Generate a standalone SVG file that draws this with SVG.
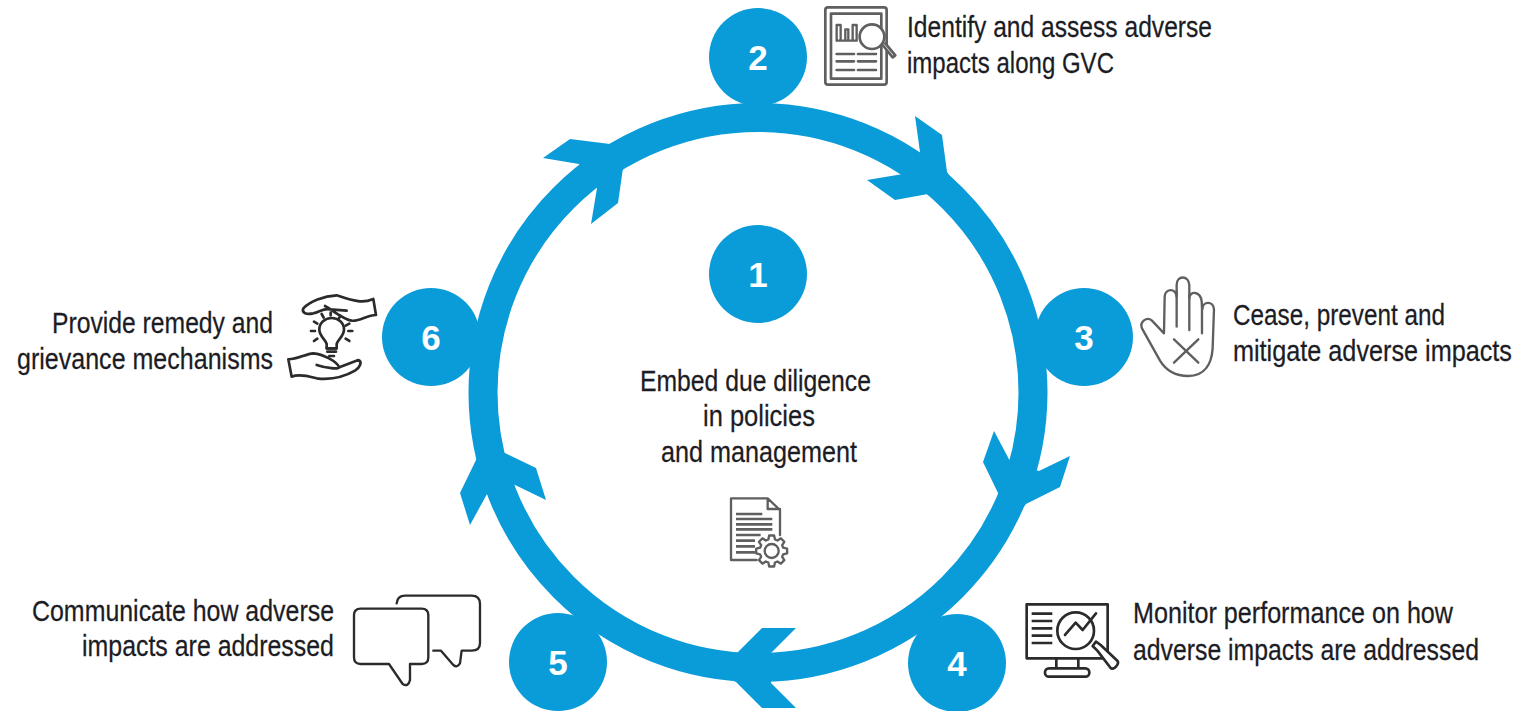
<svg xmlns="http://www.w3.org/2000/svg" width="1519" height="711" viewBox="0 0 1519 711">
<defs>
<style>
.c{fill:#0a9bd9}
.n{font-family:"Liberation Sans",Arial,sans-serif;font-weight:700;font-size:35px;fill:#fff;text-anchor:middle}
.t{font-family:"Liberation Sans",Arial,sans-serif;font-size:29px;fill:#1c1c24;stroke:#1c1c24;stroke-width:.25}
.i{fill:none;stroke:#5f5f5f;stroke-linecap:round;stroke-linejoin:round}
.k{fill:none;stroke:#2b2b2b;stroke-linecap:round;stroke-linejoin:round}
</style>
</defs>
<rect width="1519" height="711" fill="#fff"/>
<g id="connectors">
<circle cx="758" cy="392.5" r="275" fill="none" stroke="#0a9bd9" stroke-width="29"/>
<polygon class="c" points="920,152 915,116 942,135 947,172 966,200 928,194 895,200 867,180 903,174"/>
<polygon class="c" points="1011,463 994,431 983,462 999,495 1005,530 1026,504 1060,487 1070,456 1039,471"/>
<polygon class="c" points="769,655 796,628 762,628 736,654 705,669 736,682 762,708 796,708 771,683"/>
<polygon class="c" points="513,484 546,500 536,468 503,452 490,420 476,460 460,493 470,525 487,494"/>
<polygon class="c" points="579,164 543,158 570,139 610,144 650,130 623,168 618,203 591,224 597,188"/>
</g>
<g id="node-1">
<circle class="c" cx="758" cy="274" r="49"/>
<text class="n" x="758" y="287">1</text>
<text class="t" transform="translate(640 391) scale(.86 1)" textLength="268.600" lengthAdjust="spacingAndGlyphs">Embed due diligence</text>
<text class="t" transform="translate(703 426) scale(.86 1)" textLength="130.200" lengthAdjust="spacingAndGlyphs">in policies</text>
<text class="t" transform="translate(661 462) scale(.86 1)" textLength="227.900" lengthAdjust="spacingAndGlyphs">and management</text>
<g class="i" transform="translate(720 485) scale(.3333)" stroke-width="7">
<path d="M110 225H33V40H143L180 75V150M143 40V72H180"/>
<path stroke-width="8" stroke-linecap="butt" d="M48 87H127M48 102H157M48 118H157M48 133H157M48 150H122M48 167H105M48 184H105M48 202H105"/>
<g transform="translate(155 198)">
<polygon fill="#fff" points="34.600,-9.900 46.400,-7.400 46.400,7.400 34.600,9.900 31.500,17.500 38,27.600 27.600,38 17.500,31.500 9.900,34.600 7.400,46.400 -7.400,46.400 -9.900,34.600 -17.500,31.500 -27.600,38 -38,27.600 -31.500,17.500 -34.600,9.900 -46.400,7.400 -46.400,-7.400 -34.600,-9.900 -31.500,-17.500 -38,-27.600 -27.600,-38 -17.500,-31.500 -9.900,-34.600 -7.400,-46.400 7.400,-46.400 9.900,-34.600 17.500,-31.500 27.600,-38 38,-27.600 31.500,-17.500"/>
<circle r="21"/>
</g>
</g>
</g>
<g id="node-2">
<circle class="c" cx="758" cy="57" r="49"/>
<text class="n" x="758" y="70">2</text>
<text class="t" transform="translate(907 37) scale(.86 1)" textLength="354.700" lengthAdjust="spacingAndGlyphs">Identify and assess adverse</text>
<text class="t" transform="translate(907 73) scale(.86 1)" textLength="240.700" lengthAdjust="spacingAndGlyphs">impacts along GVC</text>
<g class="i" transform="translate(700 0) scale(.3333)" stroke-width="8">
<rect x="376" y="22" width="184" height="232" rx="8"/>
<rect x="393" y="41" width="151" height="195"/>
<path stroke-width="7" d="M410 75V122H470V75H458V122M410 75H422V122M436 88V122M445 88V122M436 88H445"/>
<path d="M410 162H462M474 162H528M410 184H462M474 184H528M410 210H462M474 210H528"/>
<circle cx="516" cy="110" r="37" fill="#fff"/>
<path d="M548 135L578 172L586 166L556 130" fill="#fff"/>
</g>
</g>
<g id="node-3">
<circle class="c" cx="1084" cy="337" r="49"/>
<text class="n" x="1084" y="350">3</text>
<text class="t" transform="translate(1233 325) scale(.86 1)" textLength="246.500" lengthAdjust="spacingAndGlyphs">Cease, prevent and</text>
<text class="t" transform="translate(1233 361) scale(.86 1)" textLength="324.400" lengthAdjust="spacingAndGlyphs">mitigate adverse impacts</text>
<g class="i" transform="translate(1020 270) scale(.3333)" stroke-width="7">
<path d="M432 190L396 152C380 138 358 156 366 175L420 272C440 305 470 318 505 318C555 318 575 280 578 235L582 118C580 92 548 92 547 118L545 95C542 62 508 62 508 85V45C506 15 470 15 470 45V80C468 52 434 55 434 82Z"/>
<path d="M470 65V170M508 75V180M546 105V190M462 208L535 278M535 208L462 278"/>
</g>
</g>
<g id="node-4">
<circle class="c" cx="957" cy="663" r="49"/>
<text class="n" x="957" y="676">4</text>
<text class="t" transform="translate(1133 623) scale(.86 1)" textLength="372.100" lengthAdjust="spacingAndGlyphs">Monitor performance on how</text>
<text class="t" transform="translate(1133 660) scale(.86 1)" textLength="402.300" lengthAdjust="spacingAndGlyphs">adverse impacts are addressed</text>
<g class="k" transform="translate(1010 590) scale(.3333)" stroke-width="8" stroke="#3a3a3a">
<rect x="50" y="43" width="243" height="162" stroke-linecap="butt"/>
<path stroke-linecap="butt" d="M65 71H127M65 93H127M65 115H127M65 137H127M65 159H127M139 205V235M205 205V235"/>
<rect x="105" y="235" width="133" height="25" rx="12" fill="#fff"/>
<path fill="#fff" d="M248 168L262 182L302 234C310 242 330 222 322 212L272 165L258 155Z"/>
<circle cx="197" cy="122" r="55" fill="#fff"/>
<path d="M165 135L197 98L218 120L258 70"/>
</g>
</g>
<g id="node-5">
<circle class="c" cx="558" cy="662" r="49"/>
<text class="n" x="558" y="675">5</text>
<text class="t" transform="translate(32 621) scale(.86 1)" textLength="351.200" lengthAdjust="spacingAndGlyphs">Communicate how adverse</text>
<text class="t" transform="translate(82 656) scale(.86 1)" textLength="293" lengthAdjust="spacingAndGlyphs">impacts are addressed</text>
<g class="k" transform="translate(340 580) scale(.3333)" stroke-width="7">
<path d="M62 86H245Q265 86 265 106V232Q265 252 245 252H210V300Q205 322 188 312L147 252H62Q42 252 42 232V106Q42 86 62 86Z"/>
<path d="M170 70Q172 47 195 47H395Q420 47 420 72V190Q420 212 395 212H365L360 250Q352 265 340 255L303 212H280"/>
</g>
</g>
<g id="node-6">
<circle class="c" cx="431" cy="337" r="49"/>
<text class="n" x="431" y="350">6</text>
<text class="t" transform="translate(52 333) scale(.86 1)" textLength="257" lengthAdjust="spacingAndGlyphs">Provide remedy and</text>
<text class="t" transform="translate(17 369) scale(.86 1)" textLength="297.700" lengthAdjust="spacingAndGlyphs">grievance mechanisms</text>
<g class="k" transform="translate(280 280) scale(.3333)" stroke-width="8">
<path d="M280 57L288 105C260 105 240 125 215 122C190 118 160 92 135 78M280 57C250 70 225 65 170 46C130 48 90 65 70 85C64 100 80 104 100 100C120 95 130 84 150 88L200 92"/>
<path d="M25 238L35 290C60 280 90 290 110 295C150 300 190 292 225 272C240 262 248 245 235 240L178 262C175 268 140 265 110 255M25 238C55 238 75 222 100 220C130 222 170 245 178 262"/>
<path d="M140 205V192C135 175 118 170 118 148C118 128 135 114 155 114C175 114 192 128 192 148C192 170 175 175 170 192V205Z"/>
<path d="M140 205H170M142 215H168M148 228H162"/>
<path d="M93 153H105M205 153H217M102 125L112 131M208 131L197 137M102 183L112 176M197 176L208 183M125 102L131 113M152 98V106M182 108L176 115"/>
</g>
</g>
</svg>
